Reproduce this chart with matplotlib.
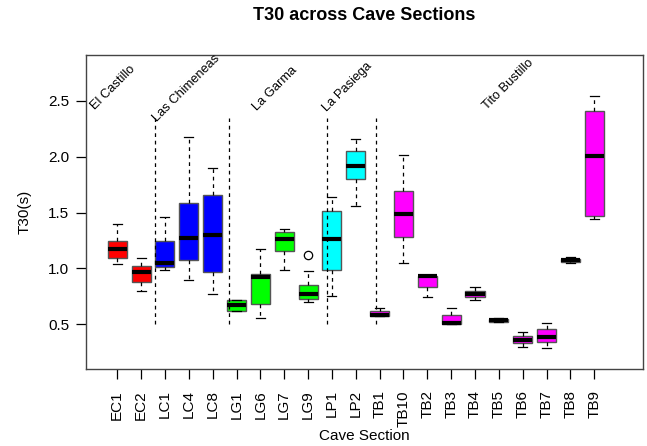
import matplotlib
matplotlib.use("Agg")
import matplotlib.pyplot as plt

plt.rcParams['font.family'] = ['Liberation Sans', 'DejaVu Sans']

# Box statistics: (low whisker, q1, median, q3, high whisker)
sections = ['EC1', 'EC2', 'LC1', 'LC4', 'LC8', 'LG1', 'LG6', 'LG7', 'LG9', 'LP1', 'LP2',
            'TB1', 'TB10', 'TB2', 'TB3', 'TB4', 'TB5', 'TB6', 'TB7', 'TB8', 'TB9']
whislo = [1.04, 0.80, 0.99, 0.90, 0.77, 0.62, 0.56, 0.99, 0.70, 0.75, 1.56,
          0.575, 1.05, 0.74, 0.50, 0.72, 0.52, 0.30, 0.29, 1.05, 1.44]
q1 = [1.09, 0.88, 1.01, 1.08, 0.97, 0.62, 0.68, 1.16, 0.73, 0.99, 1.80,
      0.575, 1.28, 0.83, 0.50, 0.745, 0.525, 0.33, 0.34, 1.06, 1.47]
med = [1.17, 0.97, 1.05, 1.27, 1.30, 0.67, 0.92, 1.26, 0.77, 1.26, 1.92,
       0.585, 1.49, 0.93, 0.51, 0.775, 0.538, 0.36, 0.39, 1.075, 2.01]
q3 = [1.25, 1.02, 1.25, 1.59, 1.66, 0.715, 0.95, 1.33, 0.85, 1.51, 2.05,
      0.615, 1.69, 0.935, 0.58, 0.80, 0.55, 0.395, 0.455, 1.087, 2.41]
whishi = [1.40, 1.09, 1.46, 2.18, 1.90, 0.715, 1.17, 1.35, 0.98, 1.64, 2.16,
          0.645, 2.02, 0.935, 0.645, 0.834, 0.56, 0.43, 0.515, 1.10, 2.54]
fliers = {'LG9': [1.12]}
colors = ['red'] * 2 + ['blue'] * 3 + ['#00ff00'] * 4 + ['cyan'] * 2 + ['magenta'] * 10

cave_names = ['El Castillo', 'Las Chimeneas', 'La Garma', 'La Pasiega', 'Tito Bustillo']
name_x = [0.07, 2.68, 6.84, 9.80, 16.49]
name_y = [2.42, 2.31, 2.41, 2.40, 2.42]
divider_x = [2.59, 5.68, 9.80, 11.86]

stats = []
for i, s in enumerate(sections):
    stats.append(dict(label=s, whislo=whislo[i], q1=q1[i], med=med[i], q3=q3[i],
                      whishi=whishi[i], fliers=fliers.get(s, [])))

fig = plt.figure(figsize=(6.47, 4.46), dpi=100)
ax = fig.add_axes([86/647, 1 - 369.3/446, (642.7 - 86)/647, (369.3 - 54.7)/446])

pos = list(range(1, len(sections) + 1))
bp = ax.bxp(stats, positions=pos, widths=0.8, patch_artist=True, capwidths=0.38,
            boxprops=dict(edgecolor='#555555', linewidth=1),
            medianprops=dict(color='black', linewidth=3, solid_capstyle='butt'),
            whiskerprops=dict(color='black', linewidth=0.9, linestyle=(0, (3, 3))),
            capprops=dict(color='black', linewidth=0.9),
            flierprops=dict(marker='o', markerfacecolor='none', markeredgecolor='black',
                            markersize=6, markeredgewidth=0.9))
for patch, c in zip(bp['boxes'], colors):
    patch.set_facecolor(c)

ax.vlines(divider_x, 0.5, 2.345, colors='black', linewidth=0.9, linestyles=(0, (3, 3)))

for name, x, y in zip(cave_names, name_x, name_y):
    ax.text(x, y, name, rotation=45, ha='left', va='baseline', fontsize=9.3,
            rotation_mode='anchor')

ax.set_xlim(-0.31, 23.03)
ax.set_ylim(0.097, 2.914)
ax.set_yticks([0.5, 1.0, 1.5, 2.0, 2.5])
ax.set_yticklabels(['0.5', '1.0', '1.5', '2.0', '2.5'])
ax.set_xticks(pos)
ax.set_xticklabels(sections, rotation=90)
ax.tick_params(axis='both', labelsize=11, length=7, width=0.9, direction='out')
ax.tick_params(axis='x', pad=8)
ax.tick_params(axis='y', pad=5)
for sp in ax.spines.values():
    sp.set_color('#444444')
    sp.set_linewidth(1)

ax.set_ylabel('T30(s)', fontsize=11, labelpad=12)
ax.set_xlabel('Cave Section', fontsize=11, labelpad=2)
fig.suptitle('T30 across Cave Sections', fontsize=13, fontweight='bold', x=364/647, y=1 - 16/446,
             va='center')

fig.savefig('out.png', dpi=100)
